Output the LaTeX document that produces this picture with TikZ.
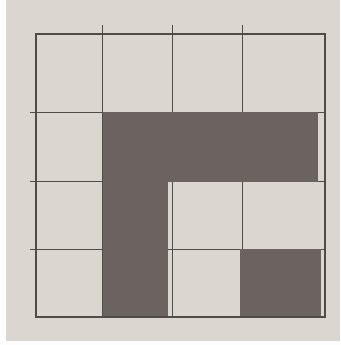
\documentclass[tikz,border=0pt]{standalone}
\usepackage{tikz}

\definecolor{paper}{RGB}{219,215,208}
\definecolor{pencil}{RGB}{78,75,73}
\definecolor{graphite}{RGB}{106,99,96}

\begin{document}
\begin{tikzpicture}[x=1pt,y=-1pt]

\fill[white!96!paper] (0,0) rectangle (340,345);
\fill[paper] (6,0) rectangle (340,341);
\useasboundingbox (0,0) rectangle (340,345);

% grid
\foreach \x in {102,172,242}
\draw[pencil, line width=0.8pt] (\x,25) -- (\x,317);

\foreach \y in {112,181,249}
\draw[pencil, line width=0.8pt] (30,\y) -- (325,\y);

% shaded cells
\fill[graphite] (103,112) rectangle (318,182);
\fill[graphite] (103,182) rectangle (168,318);
\fill[graphite] (240,249) rectangle (321,316);

\draw[pencil, line width=1.4pt] (36,34) rectangle (325,317);

\end{tikzpicture}
\end{document}
